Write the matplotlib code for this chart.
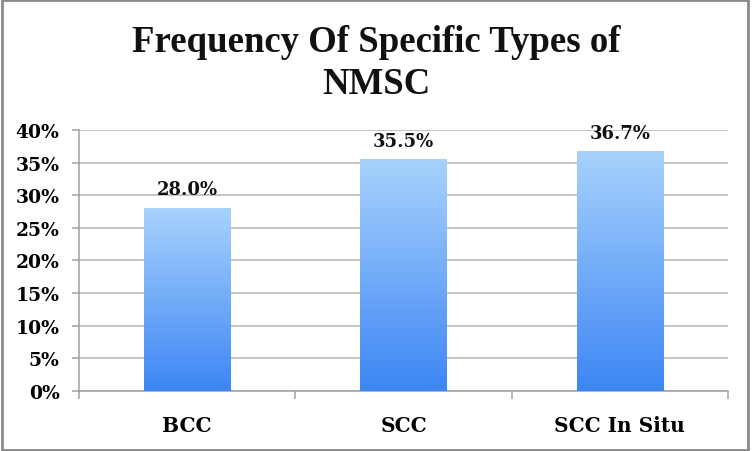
import matplotlib
matplotlib.use("Agg")
import matplotlib.pyplot as plt
import numpy as np
from matplotlib.colors import LinearSegmentedColormap
from matplotlib.patches import Rectangle

categories = ["BCC", "SCC", "SCC In Situ"]
values = [28.0, 35.5, 36.7]
yticks = [0, 5, 10, 15, 20, 25, 30, 35, 40]
title_lines = ["Frequency Of Specific Types of", "NMSC"]

plt.rcParams["font.family"] = ["DejaVu Serif"]
plt.rcParams["font.weight"] = "bold"

fig = plt.figure(figsize=(7.52, 4.52), dpi=100)
ax = fig.add_axes([0.105, 0.133, 0.863, 0.577])

# vertical gradient, dark at the base, light at the top of each bar
grad = LinearSegmentedColormap.from_list("g", ["#3d86f5", "#a8d2fc"])
x = np.arange(len(categories))
bars = ax.bar(x, values, width=0.40, color="none", zorder=3)
for b in bars:
    x0, w, h = b.get_x(), b.get_width(), b.get_height()
    ax.imshow(np.linspace(0, 1, 256).reshape(-1, 1), cmap=grad, origin="lower",
              extent=(x0, x0 + w, 0, h), aspect="auto", zorder=3)
    ax.annotate(f"{h:.1f}%", (x0 + w / 2, h), xytext=(0, 10),
                textcoords="offset points", ha="center", va="baseline",
                fontsize=13, fontweight="bold", color="#111111", zorder=4)

ax.set_xlim(-0.5, len(categories) - 0.5)
ax.set_ylim(0, 40)
ax.set_yticks(yticks)
ax.set_yticklabels([f"{t}%" for t in yticks])
ax.yaxis.grid(True, color="#b4b4b4", linewidth=1.1, zorder=0)
ax.set_axisbelow(True)

ax.set_xticks(x)
ax.set_xticklabels(categories)
ax.set_xticks(np.arange(-0.5, len(categories)), minor=True)
ax.tick_params(axis="x", which="major", length=0, pad=17.5, labelsize=14.5)
ax.tick_params(axis="x", which="minor", length=6, color="#a0a0a0", width=1.1)
ax.tick_params(axis="y", length=5, pad=9, color="#a0a0a0", width=1.1, labelsize=13.5)

for s in ["top", "right"]:
    ax.spines[s].set_visible(False)
for s in ["left", "bottom"]:
    ax.spines[s].set_color("#a0a0a0")
    ax.spines[s].set_linewidth(1.1)

fig.text(0.5, 1 - 52 / 452, title_lines[0], ha="center", va="baseline",
         fontsize=26.5, fontweight="bold", family="Liberation Serif", color="#111111")
fig.text(0.5, 1 - 94 / 452, title_lines[1], ha="center", va="baseline",
         fontsize=26.5, fontweight="bold", family="Liberation Serif", color="#111111")

fig.patches.append(Rectangle((0.002, 0.003), 0.993, 0.994, transform=fig.transFigure,
                             fill=False, edgecolor="#8a8a8a", linewidth=2))

fig.savefig("out.png", dpi=100)
